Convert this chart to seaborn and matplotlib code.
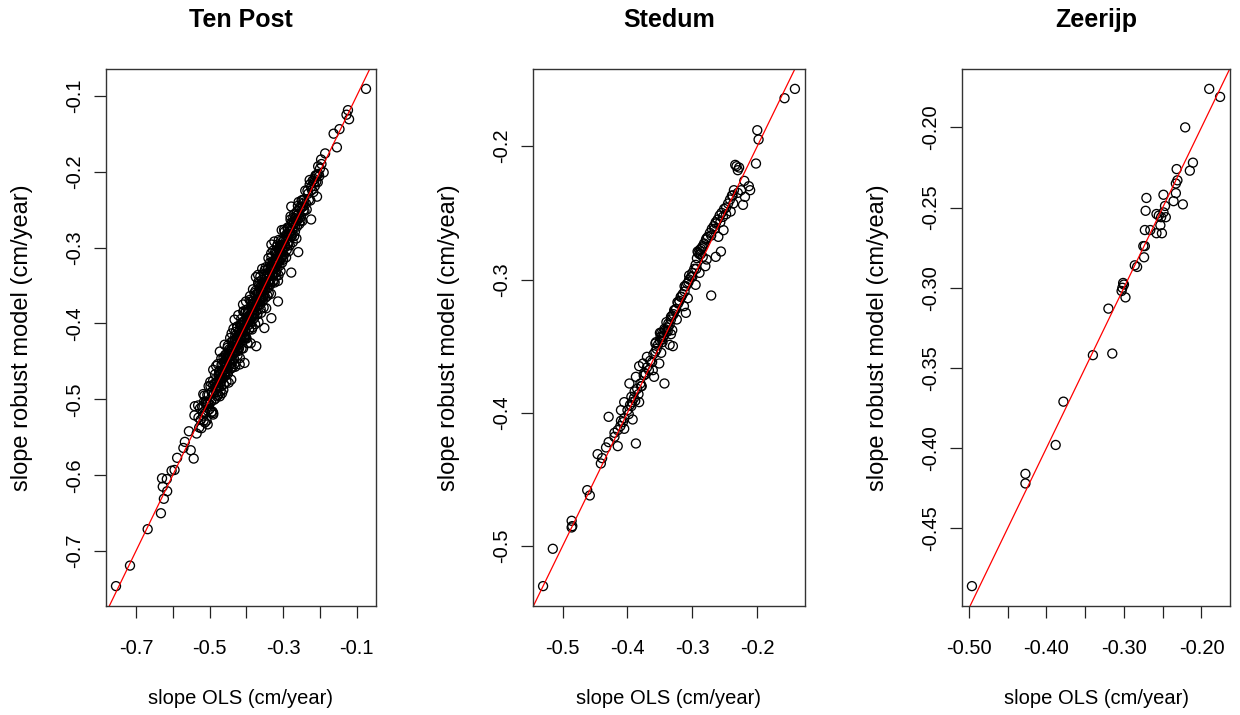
import matplotlib
matplotlib.use("Agg")
import matplotlib.pyplot as plt
import numpy as np
import pandas as pd
import seaborn as sns

# ---- Ten Post: slope OLS vs slope robust model (cm/year) ----
tenpost_ols = [
    # outer points
    -0.075, -0.124, -0.121, -0.128, -0.147, -0.163, -0.154, -0.186, -0.197, -0.205,
    -0.190, -0.228, -0.208, -0.278, -0.224, -0.259, -0.332, -0.196, -0.200, -0.212,
    -0.215, -0.754, -0.716, -0.668, -0.632, -0.624, -0.627, -0.629, -0.616, -0.615,
    -0.603, -0.595, -0.588, -0.543, -0.567, -0.571, -0.551, -0.505, -0.535, -0.556,
    -0.541, -0.531, -0.490, -0.368, -0.409, -0.432, -0.472, -0.490, -0.517, -0.540,
    -0.278, -0.314, -0.332, -0.351, -0.373, -0.405, -0.441, -0.472, -0.490,
    # dense band
    -0.530, -0.528, -0.526, -0.524, -0.522, -0.520, -0.518, -0.516, -0.514, -0.512,
    -0.510, -0.508, -0.506, -0.504, -0.502, -0.500, -0.498, -0.496, -0.494, -0.492,
    -0.490, -0.488, -0.486, -0.484, -0.482, -0.480, -0.478, -0.476, -0.474, -0.472,
    -0.470, -0.469, -0.468, -0.467, -0.466, -0.465, -0.464, -0.463, -0.462, -0.461,
    -0.460, -0.459, -0.458, -0.457, -0.456, -0.455, -0.454, -0.453, -0.452, -0.451,
    -0.450, -0.449, -0.448, -0.447, -0.446, -0.445, -0.444, -0.443, -0.442, -0.441,
    -0.440, -0.439, -0.438, -0.437, -0.436, -0.435, -0.434, -0.433, -0.432, -0.431,
    -0.430, -0.429, -0.428, -0.427, -0.426, -0.425, -0.424, -0.423, -0.422, -0.421,
    -0.420, -0.419, -0.418, -0.417, -0.416, -0.415, -0.414, -0.413, -0.412, -0.411,
    -0.410, -0.409, -0.408, -0.407, -0.406, -0.405, -0.404, -0.403, -0.402, -0.401,
    -0.400, -0.399, -0.398, -0.397, -0.396, -0.395, -0.394, -0.393, -0.392, -0.391,
    -0.390, -0.389, -0.388, -0.387, -0.386, -0.385, -0.384, -0.383, -0.382, -0.381,
    -0.380, -0.379, -0.378, -0.377, -0.376, -0.375, -0.374, -0.373, -0.372, -0.371,
    -0.370, -0.369, -0.368, -0.367, -0.366, -0.365, -0.364, -0.363, -0.362, -0.361,
    -0.360, -0.359, -0.358, -0.357, -0.356, -0.355, -0.354, -0.353, -0.352, -0.351,
    -0.350, -0.349, -0.348, -0.347, -0.346, -0.345, -0.344, -0.343, -0.342, -0.341,
    -0.340, -0.339, -0.338, -0.337, -0.336, -0.335, -0.334, -0.333, -0.332, -0.331,
    -0.330, -0.329, -0.328, -0.327, -0.326, -0.325, -0.324, -0.323, -0.322, -0.321,
    -0.320, -0.319, -0.318, -0.317, -0.316, -0.315, -0.314, -0.313, -0.312, -0.311,
    -0.310, -0.309, -0.308, -0.307, -0.306, -0.305, -0.304, -0.303, -0.302, -0.301,
    -0.300, -0.298, -0.296, -0.294, -0.292, -0.290, -0.288, -0.286, -0.284, -0.282,
    -0.280, -0.278, -0.276, -0.274, -0.272, -0.270, -0.268, -0.266, -0.264, -0.262,
    -0.260, -0.258, -0.256, -0.254, -0.252, -0.250, -0.248, -0.246, -0.244, -0.242,
    -0.240, -0.238, -0.236, -0.234, -0.232, -0.230, -0.228, -0.226, -0.224, -0.222,
    -0.220, -0.218, -0.216, -0.214, -0.212, -0.210, -0.208, -0.206, -0.204, -0.202,
    # second pass through the band
    -0.5175, -0.5150, -0.5125, -0.5100, -0.5075, -0.5050, -0.5025, -0.5000, -0.4975, -0.4950,
    -0.4925, -0.4900, -0.4875, -0.4850, -0.4825, -0.4800, -0.4775, -0.4750, -0.4725, -0.4700,
    -0.4675, -0.4650, -0.4625, -0.4600, -0.4575, -0.4550, -0.4525, -0.4500, -0.4475, -0.4450,
    -0.4425, -0.4400, -0.4375, -0.4350, -0.4325, -0.4300, -0.4275, -0.4250, -0.4225, -0.4200,
    -0.4175, -0.4150, -0.4125, -0.4100, -0.4075, -0.4050, -0.4025, -0.4000, -0.3975, -0.3950,
    -0.3925, -0.3900, -0.3875, -0.3850, -0.3825, -0.3800, -0.3775, -0.3750, -0.3725, -0.3700,
    -0.3675, -0.3650, -0.3625, -0.3600, -0.3575, -0.3550, -0.3525, -0.3500, -0.3475, -0.3450,
    -0.3425, -0.3400, -0.3375, -0.3350, -0.3325, -0.3300, -0.3275, -0.3250, -0.3225, -0.3200,
    -0.3175, -0.3150, -0.3125, -0.3100, -0.3075, -0.3050, -0.3025, -0.3000, -0.2975, -0.2950,
    -0.2925, -0.2900, -0.2875, -0.2850, -0.2825, -0.2800, -0.2775, -0.2750, -0.2725, -0.2700,
    -0.2675, -0.2650, -0.2625, -0.2600, -0.2575, -0.2550, -0.2525, -0.2500, -0.2475, -0.2450,
    -0.2425,
    # core of the band
    -0.4805, -0.4775, -0.4745, -0.4715, -0.4685, -0.4655, -0.4625, -0.4595, -0.4565, -0.4535,
    -0.4505, -0.4475, -0.4445, -0.4415, -0.4385, -0.4355, -0.4325, -0.4295, -0.4265, -0.4235,
    -0.4205, -0.4175, -0.4145, -0.4115, -0.4085, -0.4055, -0.4025, -0.3995, -0.3965, -0.3935,
    -0.3905, -0.3875, -0.3845, -0.3815, -0.3785, -0.3755, -0.3725, -0.3695, -0.3665, -0.3635,
    -0.3605, -0.3575, -0.3545, -0.3515, -0.3485, -0.3455, -0.3425, -0.3395, -0.3365, -0.3335,
    -0.3305, -0.3275, -0.3245, -0.3215, -0.3185, -0.3155, -0.3125, -0.3095, -0.3065, -0.3035,
    -0.3005, -0.2975, -0.2945, -0.2915, -0.2885, -0.2855, -0.2825, -0.2795, -0.2765, -0.2735,
    -0.2705, -0.2675, -0.2645, -0.2615, -0.2585,
]
tenpost_robust = [
    -0.091, -0.119, -0.131, -0.125, -0.144, -0.150, -0.168, -0.176, -0.184, -0.193,
    -0.201, -0.211, -0.233, -0.246, -0.263, -0.306, -0.296, -0.190, -0.196, -0.205,
    -0.210, -0.746, -0.719, -0.671, -0.650, -0.631, -0.615, -0.604, -0.605, -0.621,
    -0.594, -0.593, -0.577, -0.578, -0.556, -0.564, -0.567, -0.533, -0.545, -0.542,
    -0.521, -0.508, -0.520, -0.336, -0.375, -0.395, -0.437, -0.461, -0.493, -0.509,
    -0.333, -0.371, -0.393, -0.406, -0.430, -0.452, -0.474, -0.496, -0.518,
    -0.524, -0.537, -0.512, -0.527, -0.538, -0.510, -0.517, -0.528, -0.495, -0.518,
    -0.506, -0.528, -0.494, -0.505, -0.494, -0.513, -0.477, -0.503, -0.491, -0.516,
    -0.475, -0.492, -0.479, -0.499, -0.456, -0.490, -0.476, -0.494, -0.463, -0.474,
    -0.465, -0.483, -0.446, -0.470, -0.492, -0.454, -0.464, -0.472, -0.445, -0.480,
    -0.452, -0.428, -0.464, -0.469, -0.453, -0.441, -0.477, -0.447, -0.453, -0.432,
    -0.466, -0.440, -0.478, -0.445, -0.434, -0.453, -0.419, -0.447, -0.459, -0.434,
    -0.424, -0.450, -0.437, -0.458, -0.423, -0.407, -0.439, -0.447, -0.428, -0.421,
    -0.457, -0.411, -0.430, -0.421, -0.436, -0.404, -0.442, -0.423, -0.389, -0.428,
    -0.433, -0.410, -0.454, -0.402, -0.413, -0.424, -0.394, -0.433, -0.407, -0.414,
    -0.398, -0.433, -0.384, -0.406, -0.417, -0.397, -0.419, -0.386, -0.408, -0.371,
    -0.419, -0.395, -0.399, -0.426, -0.385, -0.381, -0.402, -0.391, -0.408, -0.369,
    -0.394, -0.382, -0.426, -0.371, -0.398, -0.384, -0.374, -0.405, -0.355, -0.386,
    -0.374, -0.393, -0.360, -0.378, -0.401, -0.362, -0.339, -0.383, -0.369, -0.388,
    -0.361, -0.376, -0.348, -0.398, -0.361, -0.350, -0.367, -0.375, -0.338, -0.381,
    -0.358, -0.348, -0.367, -0.328, -0.371, -0.357, -0.347, -0.379, -0.335, -0.351,
    -0.356, -0.337, -0.366, -0.326, -0.380, -0.341, -0.336, -0.354, -0.328, -0.345,
    -0.314, -0.360, -0.337, -0.345, -0.320, -0.348, -0.328, -0.361, -0.313, -0.328,
    -0.335, -0.319, -0.344, -0.304, -0.336, -0.326, -0.292, -0.346, -0.315, -0.319,
    -0.332, -0.306, -0.337, -0.299, -0.319, -0.310, -0.344, -0.302, -0.290, -0.318,
    -0.324, -0.305, -0.299, -0.331, -0.291, -0.307, -0.277, -0.320, -0.296, -0.310,
    -0.292, -0.310, -0.279, -0.298, -0.313, -0.284, -0.275, -0.295, -0.283, -0.297,
    -0.259, -0.284, -0.267, -0.293, -0.269, -0.256, -0.279, -0.264, -0.288, -0.252,
    -0.263, -0.240, -0.269, -0.249, -0.260, -0.238, -0.265, -0.246, -0.237, -0.252,
    -0.225, -0.242, -0.250, -0.225, -0.229, -0.237, -0.217, -0.238, -0.220, -0.224,
    -0.212, -0.227, -0.214, -0.219, -0.206, -0.213, -0.204, -0.214, -0.203, -0.206,
    # second pass through the band
    -0.5215, -0.5030, -0.5305, -0.5030, -0.5065, -0.5150, -0.4825, -0.5060, -0.4825, -0.5170,
    -0.4895, -0.4810, -0.5005, -0.4670, -0.4835, -0.4960, -0.4535, -0.4830, -0.4675, -0.4890,
    -0.4545, -0.4650, -0.4875, -0.4500, -0.4415, -0.4600, -0.4645, -0.4290, -0.4495, -0.4370,
    -0.4595, -0.4130, -0.4465, -0.4310, -0.4535, -0.4160, -0.4305, -0.4060, -0.4365, -0.4140,
    -0.4455, -0.4040, -0.4105, -0.4170, -0.3845, -0.4160, -0.3855, -0.4200, -0.3965, -0.3860,
    -0.4075, -0.3640, -0.3915, -0.4080, -0.3705, -0.3750, -0.3875, -0.3570, -0.3745, -0.3880,
    -0.3455, -0.3710, -0.3525, -0.3860, -0.3425, -0.3520, -0.3645, -0.3300, -0.3555, -0.3380,
    -0.3635, -0.3270, -0.3375, -0.3490, -0.3075, -0.3350, -0.3195, -0.3440, -0.3065, -0.3210,
    -0.3285, -0.2960, -0.3365, -0.3040, -0.2965, -0.3130, -0.3005, -0.3160, -0.2765, -0.2980,
    -0.2835, -0.3030, -0.2735, -0.3050, -0.2785, -0.2630, -0.2845, -0.2770, -0.2605, -0.2850,
    -0.2615, -0.2640, -0.2725, -0.2450, -0.2615, -0.2470, -0.2645, -0.2470, -0.2375, -0.2510,
    -0.2405,
    # core of the band
    -0.4775, -0.4825, -0.4675, -0.4735, -0.4765, -0.4615, -0.4615, -0.4655, -0.4475, -0.4565,
    -0.4455, -0.4565, -0.4425, -0.4355, -0.4425, -0.4365, -0.4245, -0.4365, -0.4235, -0.4335,
    -0.4145, -0.4175, -0.4195, -0.4015, -0.4105, -0.4015, -0.4105, -0.3925, -0.3995, -0.3925,
    -0.3965, -0.3785, -0.3885, -0.3795, -0.3875, -0.3705, -0.3695, -0.3765, -0.3585, -0.3645,
    -0.3655, -0.3515, -0.3645, -0.3475, -0.3475, -0.3485, -0.3335, -0.3455, -0.3345, -0.3415,
    -0.3235, -0.3295, -0.3195, -0.3255, -0.3085, -0.3225, -0.3125, -0.3065, -0.3155, -0.2975,
    -0.3015, -0.2895, -0.2995, -0.2895, -0.2945, -0.2815, -0.2755, -0.2825, -0.2845, -0.2685,
    -0.2695, -0.2715, -0.2585, -0.2635, -0.2555,
]

# ---- Stedum ----
stedum_ols = [
    -0.530, -0.515, -0.486, -0.486, -0.485, -0.462, -0.458,
    -0.350, -0.345, -0.338, -0.333, -0.330, -0.357, -0.348, -0.370, -0.351, -0.376,
    -0.361, -0.374, -0.382, -0.359, -0.387, -0.397, -0.379, -0.389, -0.394, -0.382,
    -0.405, -0.394, -0.410, -0.392, -0.429, -0.407, -0.411, -0.405, -0.420, -0.415,
    -0.387, -0.429, -0.433, -0.446, -0.439, -0.441, -0.343,
    -0.346, -0.335, -0.356, -0.348, -0.331, -0.343, -0.340, -0.324, -0.333, -0.310,
    -0.328, -0.313, -0.323, -0.307, -0.317, -0.271, -0.312, -0.295, -0.306, -0.305,
    -0.300, -0.289, -0.294, -0.280, -0.278, -0.264, -0.256, -0.289, -0.284, -0.278,
    -0.271, -0.260, -0.252, -0.266, -0.264, -0.257, -0.253, -0.248, -0.241, -0.237,
    -0.222, -0.219, -0.230, -0.211, -0.225, -0.213, -0.220, -0.202, -0.234, -0.232,
    -0.230, -0.228, -0.292, -0.287, -0.284, -0.238, -0.200, -0.198, -0.158, -0.142,
    -0.400, -0.398, -0.396, -0.393, -0.390, -0.388, -0.385, -0.383, -0.380, -0.378,
    -0.375, -0.372, -0.370, -0.367, -0.365, -0.362, -0.360, -0.357, -0.355, -0.353,
    -0.350, -0.349, -0.347, -0.345, -0.344, -0.342, -0.340, -0.338, -0.337, -0.335,
    -0.333, -0.331, -0.329, -0.327, -0.325, -0.322, -0.320, -0.318, -0.315, -0.312,
    -0.310, -0.308, -0.305, -0.302, -0.300, -0.297, -0.295, -0.293, -0.291, -0.289,
    -0.287, -0.285, -0.282, -0.279, -0.276, -0.273, -0.270, -0.267, -0.264, -0.261,
    -0.258, -0.255, -0.251, -0.248, -0.245, -0.242, -0.239, -0.236, -0.420, -0.415,
    -0.410, -0.405,
]
stedum_robust = [
    -0.530, -0.502, -0.481, -0.486, -0.485, -0.458, -0.462,
    -0.340, -0.343, -0.339, -0.341, -0.350, -0.348, -0.355, -0.358, -0.363, -0.363,
    -0.368, -0.370, -0.365, -0.373, -0.373, -0.378, -0.380, -0.384, -0.388, -0.392,
    -0.392, -0.395, -0.398, -0.405, -0.403, -0.407, -0.410, -0.412, -0.415, -0.425,
    -0.423, -0.422, -0.426, -0.431, -0.434, -0.438, -0.378,
    -0.347, -0.349, -0.347, -0.340, -0.338, -0.337, -0.332, -0.330, -0.328, -0.325,
    -0.323, -0.320, -0.317, -0.314, -0.313, -0.312, -0.305, -0.304, -0.302, -0.297,
    -0.298, -0.295, -0.292, -0.290, -0.285, -0.283, -0.279, -0.278, -0.275, -0.269,
    -0.267, -0.268, -0.263, -0.262, -0.258, -0.257, -0.253, -0.251, -0.249, -0.243,
    -0.244, -0.238, -0.235, -0.233, -0.233, -0.230, -0.226, -0.213, -0.214, -0.215,
    -0.218, -0.216, -0.279, -0.281, -0.283, -0.237, -0.188, -0.195, -0.164, -0.157,
    -0.398, -0.401, -0.394, -0.392, -0.389, -0.391, -0.382, -0.386, -0.378, -0.380,
    -0.372, -0.371, -0.366, -0.368, -0.361, -0.362, -0.356, -0.354, -0.352, -0.349,
    -0.346, -0.343, -0.345, -0.340, -0.342, -0.338, -0.339, -0.336, -0.333, -0.334,
    -0.330, -0.327, -0.326, -0.323, -0.322, -0.318, -0.316, -0.313, -0.311, -0.309,
    -0.305, -0.303, -0.300, -0.298, -0.295, -0.292, -0.289, -0.284, -0.280, -0.281,
    -0.277, -0.276, -0.273, -0.270, -0.268, -0.265, -0.262, -0.260, -0.257, -0.255,
    -0.252, -0.250, -0.247, -0.246, -0.243, -0.240, -0.237, -0.233, -0.418, -0.413,
    -0.406, -0.404,
]

# ---- Zeerijp ----
zeerijp_ols = [
    -0.496, -0.427, -0.427, -0.388, -0.378, -0.340, -0.315, -0.320, -0.301, -0.302,
    -0.303, -0.300, -0.298, -0.286, -0.283, -0.274, -0.275, -0.273, -0.273, -0.272,
    -0.271, -0.266, -0.258, -0.258, -0.253, -0.252, -0.251, -0.249, -0.247, -0.249,
    -0.246, -0.255, -0.236, -0.233, -0.233, -0.231, -0.232, -0.224, -0.221, -0.215,
    -0.211, -0.190, -0.176,
]
zeerijp_robust = [
    -0.486, -0.416, -0.422, -0.398, -0.371, -0.342, -0.341, -0.313, -0.297, -0.300,
    -0.302, -0.298, -0.306, -0.286, -0.287, -0.281, -0.274, -0.274, -0.264, -0.252,
    -0.244, -0.264, -0.266, -0.254, -0.261, -0.256, -0.266, -0.253, -0.249, -0.242,
    -0.256, -0.255, -0.246, -0.241, -0.235, -0.233, -0.226, -0.248, -0.200, -0.227,
    -0.222, -0.176, -0.181,
]

titles = ["Ten Post", "Stedum", "Zeerijp"]
xtick_vals = [
    [-0.7, -0.6, -0.5, -0.4, -0.3, -0.2, -0.1],
    [-0.5, -0.4, -0.3, -0.2],
    [-0.50, -0.45, -0.40, -0.35, -0.30, -0.25, -0.20],
]
xtick_text = [
    ["-0.7", "", "-0.5", "", "-0.3", "", "-0.1"],
    ["-0.5", "-0.4", "-0.3", "-0.2"],
    ["-0.50", "", "-0.40", "", "-0.30", "", "-0.20"],
]
ytick_vals = [
    [-0.7, -0.6, -0.5, -0.4, -0.3, -0.2, -0.1],
    [-0.5, -0.4, -0.3, -0.2],
    [-0.45, -0.40, -0.35, -0.30, -0.25, -0.20],
]
ytick_text = [
    ["-0.7", "-0.6", "-0.5", "-0.4", "-0.3", "-0.2", "-0.1"],
    ["-0.5", "-0.4", "-0.3", "-0.2"],
    ["-0.45", "-0.40", "-0.35", "-0.30", "-0.25", "-0.20"],
]

sns.set_theme(style="ticks")
plt.rcParams["font.family"] = ["Liberation Sans", "DejaVu Sans"]
plt.rcParams["axes.unicode_minus"] = False
plt.rcParams["text.color"] = "black"
plt.rcParams["axes.labelcolor"] = "black"

fig = plt.figure(figsize=(12.4, 7.15), dpi=100)
lefts = [106, 533, 962]
widths = [270, 272, 268]

panels = [
    (tenpost_ols, tenpost_robust),
    (stedum_ols, stedum_robust),
    (zeerijp_ols, zeerijp_robust),
]

for i, (ols, rob) in enumerate(panels):
    ax = fig.add_axes([lefts[i] / 1240, 109 / 715, widths[i] / 1240, 537 / 715])
    df = pd.DataFrame({"ols": ols, "robust": rob})
    sns.scatterplot(data=df, x="ols", y="robust", ax=ax, marker="o",
                    s=42, facecolor="none", edgecolor="black", linewidth=0.95)
    ax.margins(0.04)
    ax.autoscale_view()
    xl = ax.get_xlim()
    yl = ax.get_ylim()
    ax.axline((0, 0), slope=1, color="red", lw=0.9)
    ax.set_xlim(xl)
    ax.set_ylim(yl)

    ax.set_xticks(xtick_vals[i])
    ax.set_xticklabels(xtick_text[i])
    ax.set_yticks(ytick_vals[i])
    ax.set_yticklabels(ytick_text[i], rotation=90, va="center")
    ax.tick_params(axis="both", direction="out", length=8.5, width=0.9,
                   colors="#222222", labelsize=14.5, pad=7, labelcolor="black",
                   bottom=True, left=True, top=False, right=False)
    ax.tick_params(axis="x", pad=15)

    for sp in ax.spines.values():
        sp.set_visible(True)
        sp.set_color("#333333")
        sp.set_linewidth(1.0)

    ax.set_title(titles[i], fontsize=18, fontweight="bold", pad=30)
    ax.set_xlabel("slope OLS (cm/year)", fontsize=14.5)
    ax.set_ylabel("slope robust model (cm/year)", fontsize=17)
    ax.xaxis.set_label_coords(0.5, -0.155)
    ax.yaxis.set_label_coords(-73 / widths[i], 0.5)

fig.savefig("out.png", dpi=100, facecolor="white")
